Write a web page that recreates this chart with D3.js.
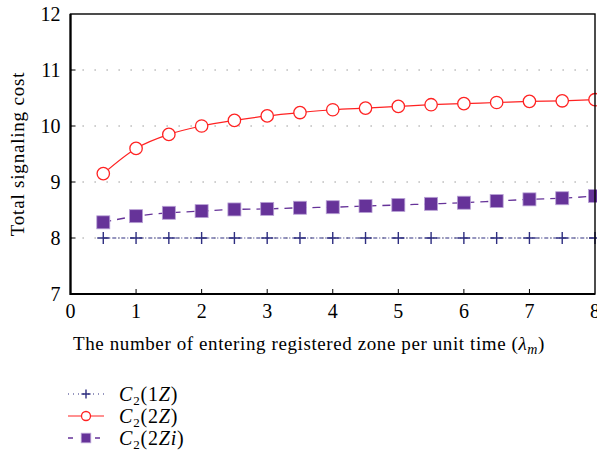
<!DOCTYPE html>
<html><head><meta charset="utf-8">
<script src="https://cdn.jsdelivr.net/npm/d3@7"></script>
<style>body{margin:0;background:#fff}svg{display:block}</style>
</head><body><svg id="c" width="597" height="464"></svg>
<script>
const xs = [0.5,1,1.5,2,2.5,3,3.5,4,4.5,5,5.5,6,6.5,7,7.5,8];
const c1Z = [8,8,8,8,8,8,8,8,8,8,8,8,8,8,8,8];
const c2Z = [9.15,9.6,9.85,10.0,10.1,10.18,10.24,10.29,10.32,10.35,10.38,10.40,10.42,10.44,10.45,10.47];
const c2Zi = [8.28,8.39,8.45,8.48,8.51,8.52,8.54,8.55,8.57,8.59,8.61,8.63,8.66,8.69,8.71,8.75];
const xTicks = [0,1,2,3,4,5,6,7,8];
const yTicks = [7,8,9,10,11,12];
const gridVals = [8,9,10,11];

const svg = d3.select('#c');
const L=70.5, R=595, T=14, B=294;
const x = d3.scaleLinear().domain([0,8]).range([L,R]);
const y = d3.scaleLinear().domain([7,12]).range([B,T]);
const font = '"Liberation Serif", "DejaVu Serif", serif';

// grid
svg.append('g').selectAll('line').data(gridVals).join('line')
  .attr('x1',L).attr('x2',R).attr('y1',d=>y(d)).attr('y2',d=>y(d))
  .attr('stroke','#888').attr('stroke-width',1).attr('stroke-dasharray','1.3,10.7');

// ticks inside
svg.append('g').selectAll('line').data(xTicks.slice(1,-1)).join('line')
  .attr('x1',d=>x(d)).attr('x2',d=>x(d)).attr('y1',B).attr('y2',B-5)
  .attr('stroke','#000').attr('stroke-width',1);
svg.append('g').selectAll('line').data(yTicks.slice(1,-1)).join('line')
  .attr('x1',L).attr('x2',L+5).attr('y1',d=>y(d)).attr('y2',d=>y(d))
  .attr('stroke','#000').attr('stroke-width',1);

const line = d3.line().x(d=>x(d[0])).y(d=>y(d[1])).curve(d3.curveMonotoneX);
const z = (arr)=>xs.map((v,i)=>[v,arr[i]]);

// series lines
svg.append('path').attr('d',line(z(c1Z))).attr('fill','none').attr('stroke','#2e2e80')
  .attr('stroke-width',1.1).attr('stroke-dasharray','4,2,1,2');
svg.append('path').attr('d',line(z(c2Zi))).attr('fill','none').attr('stroke','#663399')
  .attr('stroke-width',1.3).attr('stroke-dasharray','8,6');
svg.append('path').attr('d',line(z(c2Z))).attr('fill','none').attr('stroke','#f22')
  .attr('stroke-width',1.2);

function plus(g,cx,cy,s=6){
  g.append('path').attr('d',`M${cx-s},${cy}H${cx+s}M${cx},${cy-s}V${cy+s}`)
   .attr('stroke','#2e2e80').attr('stroke-width',1.4).attr('fill','none');
}
function circ(g,cx,cy,r=6.2){
  g.append('circle').attr('cx',cx).attr('cy',cy).attr('r',r)
   .attr('fill','#fff').attr('stroke','#f22').attr('stroke-width',1.3);
}
function sq(g,cx,cy,h=6.5){
  g.append('rect').attr('x',cx-h).attr('y',cy-h).attr('width',2*h).attr('height',2*h)
   .attr('fill','#663399').attr('stroke','#b9a2d6').attr('stroke-width',0.8);
}
const gm = svg.append('g');
z(c1Z).forEach(d=>plus(gm,x(d[0]),y(d[1])));
z(c2Zi).forEach(d=>sq(gm,x(d[0]),y(d[1])));
z(c2Z).forEach(d=>circ(gm,x(d[0]),y(d[1])));

// frame
svg.append('rect').attr('x',L).attr('y',T).attr('width',R-L).attr('height',B-T)
  .attr('fill','none').attr('stroke','#000').attr('stroke-width',1.4);
svg.append('path').attr('d',`M${L},${T}V${B}H${R}`).attr('fill','none')
  .attr('stroke','#000').attr('stroke-width',2.2);

// tick labels
svg.append('g').selectAll('text').data(xTicks).join('text')
  .attr('x',d=>x(d)).attr('y',B+24).attr('text-anchor','middle')
  .attr('font-family',font).attr('font-size',20).text(d=>d);
svg.append('g').selectAll('text').data(yTicks).join('text')
  .attr('x',L-10).attr('y',d=>y(d)+7).attr('text-anchor','end')
  .attr('font-family',font).attr('font-size',20).text(d=>d);

// axis labels
svg.append('text').attr('transform',`translate(24,${(T+B)/2}) rotate(-90)`)
  .attr('text-anchor','middle').attr('font-family',font).attr('font-size',19)
  .attr('letter-spacing',0.8)
  .text('Total signaling cost');
const xl = svg.append('text').attr('x',309).attr('y',350).attr('text-anchor','middle')
  .attr('font-family',font).attr('font-size',19).attr('letter-spacing',0.6);
xl.append('tspan').text('The number of entering registered zone per unit time (');
xl.append('tspan').attr('font-style','italic').text('λ');
xl.append('tspan').attr('font-style','italic').attr('font-size',14).attr('dy',4).text('m');
xl.append('tspan').attr('dy',-4).text(')');

// legend
const legend = [
  {name:'1Z', type:'plus'},
  {name:'2Z', type:'circ'},
  {name:'2Zi', type:'sq'}
];
legend.forEach((d,i)=>{
  const yy = 394 + i*22;
  const g = svg.append('g');
  if(d.type==='plus'){
    g.append('line').attr('x1',68).attr('x2',104).attr('y1',yy).attr('y2',yy)
     .attr('stroke','#2e2e80').attr('stroke-width',1.1).attr('stroke-dasharray','1,4');
    plus(g,86,yy,4.5);
  } else if(d.type==='circ'){
    g.append('line').attr('x1',68).attr('x2',104).attr('y1',yy).attr('y2',yy)
     .attr('stroke','#f22').attr('stroke-width',1.2);
    circ(g,86,yy,4.5);
  } else {
    g.append('line').attr('x1',68).attr('x2',104).attr('y1',yy).attr('y2',yy)
     .attr('stroke','#663399').attr('stroke-width',1.3).attr('stroke-dasharray','5,8.5');
    sq(g,86,yy,4.8);
  }
  const t = g.append('text').attr('x',119).attr('y',yy+7).attr('font-family',font)
    .attr('font-size',20).attr('letter-spacing',0.8);
  t.append('tspan').attr('font-style','italic').text('C');
  t.append('tspan').attr('font-size',13).attr('dy',4).text('2');
  t.append('tspan').attr('dy',-4).text('(');
  const m = d.name.match(/^(\d)(.*)$/);
  t.append('tspan').text(m[1]);
  t.append('tspan').attr('font-style','italic').text(m[2]);
  t.append('tspan').text(')');
});
</script></body></html>
